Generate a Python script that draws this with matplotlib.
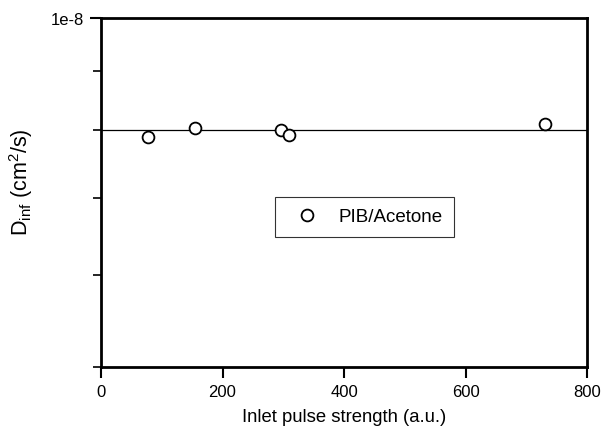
import matplotlib
matplotlib.use("Agg")
import matplotlib.pyplot as plt
from matplotlib.ticker import FixedLocator, NullFormatter, FixedFormatter

plt.rcParams['font.family'] = ['Liberation Sans', 'DejaVu Sans']
plt.rcParams['mathtext.default'] = 'regular'

# data
pulse = [78, 155, 296, 310, 731]
d_inf = [7.90e-9, 8.03e-9, 8.00e-9, 7.93e-9, 8.10e-9]
fit_x = [0, 800]
fit_y = [8.0e-9, 8.0e-9]

fig = plt.figure(figsize=(6.16, 4.39), dpi=100)
ax = fig.add_axes([0.164, 0.1617, 0.789, 0.7953])

ax.plot(fit_x, fit_y, color='black', linewidth=0.9, zorder=1)
ax.plot(pulse, d_inf, linestyle='none', marker='o', markersize=8.5,
        markerfacecolor='white', markeredgecolor='black', markeredgewidth=1.3,
        label='PIB/Acetone', zorder=2)

ax.set_yscale('log')
ax.set_xlim(0, 800)
ax.set_ylim(5e-9, 1e-8)
ax.set_xticks([0, 200, 400, 600, 800])
ax.yaxis.set_major_locator(FixedLocator([1e-8]))
ax.yaxis.set_major_formatter(FixedFormatter(['1e-8']))
ax.yaxis.set_minor_locator(FixedLocator([5e-9, 6e-9, 7e-9, 8e-9, 9e-9]))
ax.yaxis.set_minor_formatter(NullFormatter())

for s in ax.spines.values():
    s.set_linewidth(2)
ax.tick_params(axis='both', which='major', direction='out', length=8, width=1.5,
               labelsize=12, pad=4)
ax.tick_params(axis='y', which='minor', direction='out', length=6, width=1.2)

ax.set_xlabel('Inlet pulse strength (a.u.)', fontsize=13.3, labelpad=7)
ax.set_ylabel('D$_{inf}$ (cm$^2$/s)', fontsize=15.5)
ax.yaxis.set_label_coords(-0.135, 0.533)

leg = ax.legend(loc='center', bbox_to_anchor=(0.542, 0.43), fontsize=13.5,
                frameon=True, fancybox=False, edgecolor='black',
                borderpad=0.6, handlelength=2.24, handletextpad=0.59,
                borderaxespad=0)
leg.get_frame().set_linewidth(0.8)

fig.savefig('out.png', dpi=100)
